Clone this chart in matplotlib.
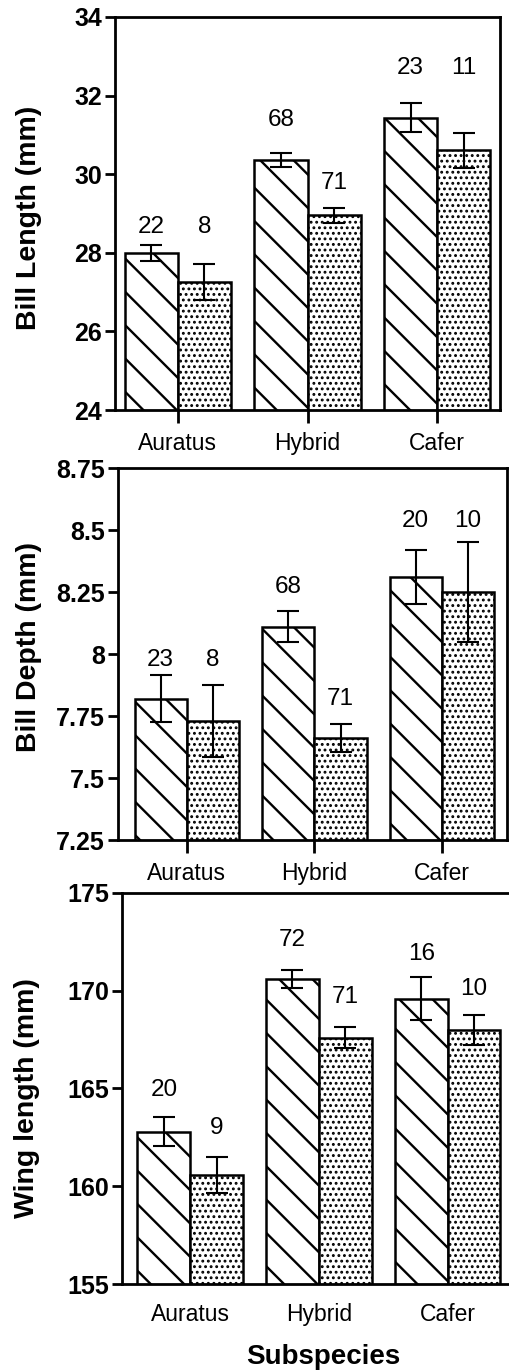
import numpy as np
import matplotlib
matplotlib.use('Agg')
import matplotlib.pyplot as plt

plt.rcParams['font.family'] = ['Liberation Sans', 'DejaVu Sans']

# subspecies on the x axis
species = ['Auratus', 'Hybrid', 'Cafer']

# bill length (mm): hatched bars = group 1, dotted bars = group 2
bill_len_1 = [28.0, 30.36, 31.44]
bill_len_1_se = [0.21, 0.17, 0.37]
bill_len_2 = [27.26, 28.95, 30.61]
bill_len_2_se = [0.45, 0.19, 0.44]
bill_len_n1 = [22, 68, 23]
bill_len_n2 = [8, 71, 11]

# bill depth (mm)
bill_dep_1 = [7.82, 8.11, 8.31]
bill_dep_1_se = [0.095, 0.063, 0.11]
bill_dep_2 = [7.73, 7.66, 8.25]
bill_dep_2_se = [0.146, 0.057, 0.20]
bill_dep_n1 = [23, 68, 20]
bill_dep_n2 = [8, 71, 10]

# wing length (mm)
wing_1 = [162.8, 170.6, 169.6]
wing_1_se = [0.73, 0.45, 1.12]
wing_2 = [160.6, 167.6, 168.0]
wing_2_se = [0.92, 0.55, 0.77]
wing_n1 = [20, 72, 16]
wing_n2 = [9, 71, 10]

# heights where the sample sizes are written (data units, set by hand in the original)
bill_len_lab1 = [28.66, 31.37, 32.69]
bill_len_lab2 = [28.66, 29.78, 32.69]
bill_dep_lab1 = [7.976, 8.27, 8.535]
bill_dep_lab2 = [7.976, 7.818, 8.535]
wing_lab1 = [164.91, 172.58, 171.87]
wing_lab2 = [162.96, 169.68, 170.11]

W, H = 509, 1372
fig = plt.figure(figsize=(W / 100, H / 100), dpi=100)


def px_axes(left, top, right, bottom):
    return fig.add_axes([left / W, 1 - bottom / H, (right - left) / W, (bottom - top) / H])


def panel(ax, m1, s1, m2, s2, n1, n2, lab1, lab2, ylim, yticks, yticklabels, xlim, show_xticks=True):
    x = np.arange(len(species))
    w = 0.41
    plt.rcParams['hatch.linewidth'] = 1.7
    ax.bar(x - w / 2, m1, width=w, color='white', edgecolor='black', linewidth=1.8,
           hatch='\\', zorder=2)
    plt.rcParams['hatch.linewidth'] = 1.3
    ax.bar(x + w / 2, m2, width=w, color='white', edgecolor='black', linewidth=1.8,
           hatch='...', zorder=2)
    ax.errorbar(x - w / 2, m1, yerr=s1, fmt='none', ecolor='black', elinewidth=1.5,
                capsize=8, capthick=1.5, zorder=3)
    ax.errorbar(x + w / 2, m2, yerr=s2, fmt='none', ecolor='black', elinewidth=1.5,
                capsize=8, capthick=1.5, zorder=3)
    for i in range(len(species)):
        ax.text(x[i] - w / 2, lab1[i], str(n1[i]), ha='center', va='center', fontsize=17.5)
        ax.text(x[i] + w / 2, lab2[i], str(n2[i]), ha='center', va='center', fontsize=17.5)

    ax.set_ylim(ylim)
    ax.set_xlim(xlim)
    ax.set_yticks(yticks)
    ax.set_yticklabels(yticklabels, fontsize=18, fontweight='bold')
    ax.set_xticks(x)
    ax.set_xticklabels(species, fontsize=16.5)
    for sp in ax.spines.values():
        sp.set_linewidth(2)
    ax.tick_params(axis='y', direction='out', length=7.5, width=2, pad=2)
    if show_xticks:
        ax.tick_params(axis='x', direction='out', length=9, width=2, pad=7)
    else:
        ax.tick_params(axis='x', length=0, pad=14)


ax1 = px_axes(115, 17, 500, 410)
panel(ax1, bill_len_1, bill_len_1_se, bill_len_2, bill_len_2_se, bill_len_n1, bill_len_n2,
      bill_len_lab1, bill_len_lab2, (24, 34), [24, 26, 28, 30, 32, 34],
      ['24', '26', '28', '30', '32', '34'], (-0.485, 2.485))

ax2 = px_axes(118, 468, 507, 840)
panel(ax2, bill_dep_1, bill_dep_1_se, bill_dep_2, bill_dep_2_se, bill_dep_n1, bill_dep_n2,
      bill_dep_lab1, bill_dep_lab2, (7.25, 8.75), [7.25, 7.5, 7.75, 8, 8.25, 8.5, 8.75],
      ['7.25', '7.5', '7.75', '8', '8.25', '8.5', '8.75'], (-0.54, 2.51))

ax3 = px_axes(122, 893, 508, 1284)
panel(ax3, wing_1, wing_1_se, wing_2, wing_2_se, wing_n1, wing_n2,
      wing_lab1, wing_lab2, (155, 175), [155, 160, 165, 170, 175],
      ['155', '160', '165', '170', '175'], (-0.53, 2.47), show_xticks=False)
ax3.spines['right'].set_visible(False)

# axis titles
fig.text(29 / W, 1 - 218 / H, 'Bill Length (mm)', rotation=90, ha='center', va='center',
         fontsize=20.5, fontweight='bold')
fig.text(29 / W, 1 - 647 / H, 'Bill Depth (mm)', rotation=90, ha='center', va='center',
         fontsize=20.5, fontweight='bold')
fig.text(27 / W, 1 - 1098 / H, 'Wing length (mm)', rotation=90, ha='center', va='center',
         fontsize=20.5, fontweight='bold')
fig.text(323 / W, 1 - 1357 / H, 'Subspecies', ha='center', va='center',
         fontsize=20, fontweight='bold')

fig.savefig('out.png', dpi=100)
